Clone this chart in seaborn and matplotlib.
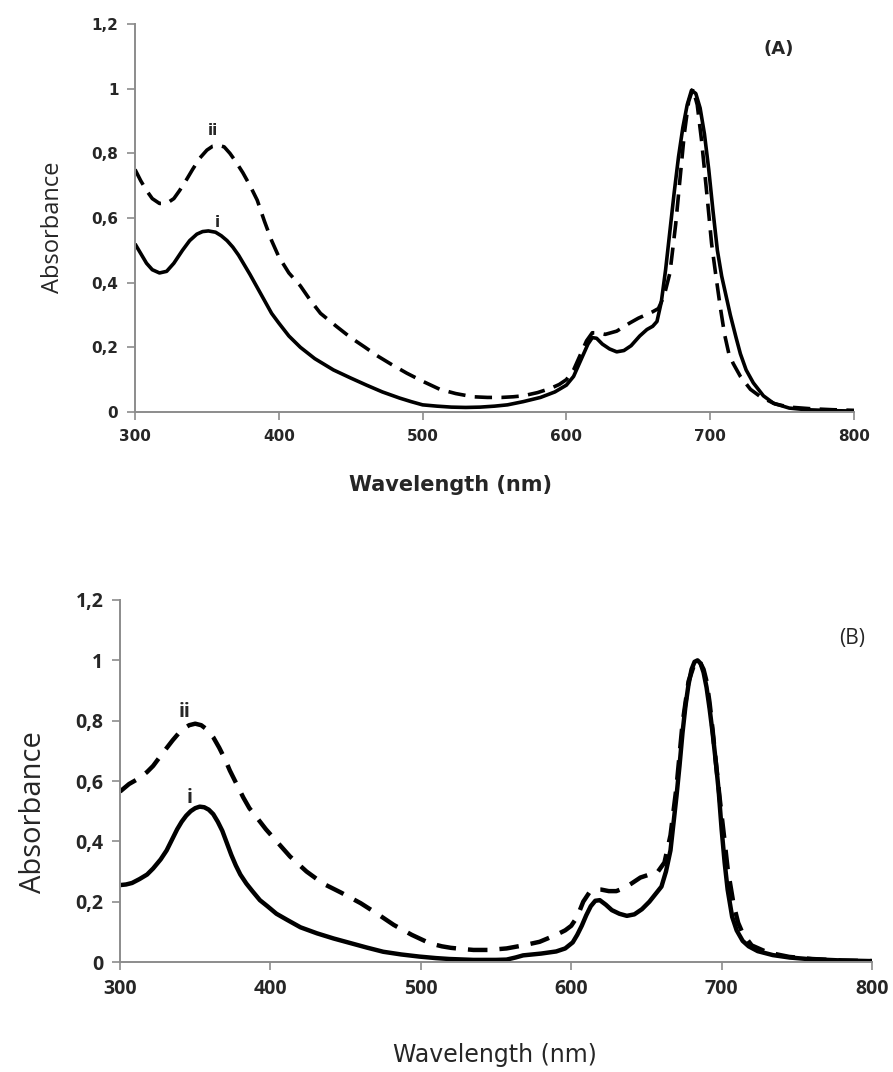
import numpy as np
import pandas as pd
import seaborn as sns
import matplotlib
matplotlib.use("Agg")
import matplotlib.pyplot as plt
from matplotlib.ticker import FixedLocator, FixedFormatter

# ---- panel A readings ----
wl_a_i = [300, 304, 308, 312, 317, 322, 327, 333, 338, 343, 347, 351, 356, 360, 364, 368,
          372, 376, 380, 385, 390, 395, 400, 407, 415, 425, 438, 450, 461, 472, 484, 492,
          500, 510, 520, 530, 540, 550, 559, 570, 582, 592, 600, 605, 609, 612, 615, 618,
          621, 625, 630, 635, 640, 645, 651, 656, 660, 663, 666, 669, 672, 675, 678, 681,
          684, 687, 690, 693, 696, 699, 702, 705, 708, 711, 714, 718, 721, 725, 730, 737,
          744, 755, 767, 785, 800]
abs_a_i = [0.52, 0.49, 0.46, 0.44, 0.43, 0.435, 0.46, 0.50, 0.53, 0.55, 0.558, 0.56, 0.556,
           0.545, 0.53, 0.51, 0.485, 0.455, 0.425, 0.385, 0.345, 0.305, 0.275, 0.235, 0.20,
           0.165, 0.13, 0.105, 0.083, 0.062, 0.043, 0.032, 0.022, 0.018, 0.015, 0.014,
           0.015, 0.018, 0.022, 0.032, 0.045, 0.062, 0.083, 0.11, 0.15, 0.18, 0.21, 0.23,
           0.228, 0.21, 0.195, 0.186, 0.19, 0.205, 0.235, 0.255, 0.265, 0.28, 0.34, 0.44,
           0.56, 0.68, 0.79, 0.88, 0.95, 0.995, 0.985, 0.94, 0.86, 0.75, 0.62, 0.50, 0.42,
           0.36, 0.30, 0.23, 0.18, 0.13, 0.09, 0.05, 0.027, 0.012, 0.007, 0.004, 0.003]

wl_a_ii = [300, 304, 308, 312, 317, 322, 327, 331, 336, 340, 345, 350, 354, 358, 362, 366,
           370, 375, 380, 385, 390, 395, 400, 407, 415, 422, 429, 440, 450, 460, 468, 478,
           489, 500, 512, 523, 535, 545, 555, 563, 570, 580, 589, 595, 600, 605, 610, 614,
           618, 622, 627, 635, 644, 650, 655, 660, 664, 668, 672, 676, 679, 682, 685, 688,
           691, 694, 698, 701, 704, 707, 710, 713, 716, 721, 728, 735, 745, 755, 770, 785,
           800]
abs_a_ii = [0.75, 0.715, 0.685, 0.66, 0.645, 0.645, 0.66, 0.685, 0.72, 0.75, 0.785, 0.81,
            0.822, 0.825, 0.82, 0.80, 0.775, 0.74, 0.70, 0.655, 0.59, 0.53, 0.48, 0.43,
            0.39, 0.345, 0.305, 0.265, 0.23, 0.2, 0.175, 0.148, 0.12, 0.095, 0.07, 0.057,
            0.047, 0.045, 0.045, 0.047, 0.05, 0.06, 0.073, 0.085, 0.10, 0.13, 0.18, 0.22,
            0.245, 0.245, 0.24, 0.25, 0.275, 0.29, 0.30, 0.31, 0.32, 0.36, 0.43, 0.58, 0.72,
            0.86, 0.96, 1.0, 0.95, 0.84, 0.66, 0.52, 0.42, 0.325, 0.24, 0.18, 0.15, 0.11,
            0.07, 0.047, 0.025, 0.015, 0.01, 0.007, 0.005]

# ---- panel B readings ----
wl_b_i = [300, 304, 308, 313, 318, 322, 327, 331, 335, 338, 341, 344, 347, 350, 353, 356,
          359, 362, 365, 368, 371, 374, 377, 380, 384, 388, 393, 398, 404, 411, 420, 431,
          442, 453, 464, 475, 487, 499, 510, 519, 535, 550, 557, 563, 568, 580, 590, 596,
          601, 604, 607, 610, 613, 616, 619, 623, 627, 632, 637, 642, 647, 652, 656, 660,
          663, 666, 668, 670, 672, 674, 676, 678, 680, 682, 684, 686, 688, 690, 692, 694,
          696, 698, 700, 702, 704, 707, 710, 714, 718, 724, 734, 745, 757, 780, 800]
abs_b_i = [0.255, 0.257, 0.262, 0.275, 0.29, 0.31, 0.34, 0.37, 0.41, 0.44, 0.465, 0.485,
           0.50, 0.51, 0.515, 0.513, 0.505, 0.49, 0.465, 0.435, 0.395, 0.355, 0.32, 0.29,
           0.26, 0.235, 0.205, 0.185, 0.16, 0.14, 0.115, 0.095, 0.078, 0.063, 0.048, 0.034,
           0.025, 0.018, 0.013, 0.01, 0.007, 0.007, 0.008, 0.015, 0.022, 0.028, 0.035,
           0.045, 0.065, 0.09, 0.12, 0.155, 0.185, 0.203, 0.205, 0.19, 0.172, 0.16, 0.153,
           0.158, 0.175, 0.2, 0.225, 0.25, 0.30, 0.37, 0.46, 0.55, 0.65, 0.76, 0.85, 0.92,
           0.97, 0.995, 1.0, 0.99, 0.96, 0.91, 0.84, 0.76, 0.67, 0.57, 0.44, 0.33, 0.24,
           0.15, 0.105, 0.07, 0.052, 0.036, 0.023, 0.015, 0.01, 0.005, 0.003]

wl_b_ii = [300, 306, 313, 318, 322, 328, 335, 341, 346, 350, 354, 358, 362, 366, 370, 373,
           377, 382, 386, 390, 397, 405, 413, 424, 435, 447, 460, 471, 482, 494, 506, 514,
           520, 528, 535, 545, 557, 568, 579, 590, 596, 600, 604, 608, 612, 616, 620, 625,
           630, 635, 640, 646, 652, 657, 662, 666, 670, 674, 678, 682, 685, 688, 690, 692,
           694, 696, 699, 702, 704, 706, 708, 711, 714, 720, 730, 738, 745, 760, 780, 800]
abs_b_ii = [0.565, 0.59, 0.61, 0.63, 0.65, 0.69, 0.735, 0.77, 0.785, 0.79, 0.785, 0.77,
            0.745, 0.71, 0.67, 0.635, 0.595, 0.545, 0.51, 0.485, 0.44, 0.395, 0.35, 0.30,
            0.26, 0.23, 0.195, 0.16, 0.123, 0.09, 0.062, 0.052, 0.047, 0.043, 0.04, 0.04,
            0.045, 0.055, 0.067, 0.09, 0.105, 0.12, 0.15, 0.20, 0.23, 0.24, 0.24, 0.235,
            0.235, 0.245, 0.26, 0.28, 0.29, 0.295, 0.33, 0.42, 0.58, 0.79, 0.93, 0.99, 1.0,
            0.97, 0.93, 0.86, 0.77, 0.67, 0.53, 0.40, 0.31, 0.25, 0.19, 0.13, 0.095, 0.055,
            0.033, 0.024, 0.017, 0.01, 0.005, 0.003]

x_ticks = [300, 400, 500, 600, 700, 800]
y_ticks = [0, 0.2, 0.4, 0.6, 0.8, 1.0, 1.2]
y_tick_labels = ["0", "0,2", "0,4", "0,6", "0,8", "1", "1,2"]

sns.set_style("white")
plt.rcParams['font.family'] = ['DejaVu Sans']

fig = plt.figure(figsize=(8.93, 10.72), dpi=100)
ax_a = fig.add_axes([0.1512, 0.6157, 0.8051, 0.3619])
ax_b = fig.add_axes([0.1344, 0.1026, 0.8421, 0.3377])

def style_axis(ax, tick_font, tick_size):
    ax.set_xlim(300, 800)
    ax.set_ylim(0, 1.2)
    for s in ["top", "right"]:
        ax.spines[s].set_visible(False)
    for s in ["left", "bottom"]:
        ax.spines[s].set_color("#8c8c8c")
        ax.spines[s].set_linewidth(1.4)
    ax.xaxis.set_major_locator(FixedLocator(x_ticks))
    ax.yaxis.set_major_locator(FixedLocator(y_ticks))
    ax.yaxis.set_major_formatter(FixedFormatter(y_tick_labels))
    ax.tick_params(axis="both", which="major", direction="out", length=6, width=1.2,
                   color="#8c8c8c", left=True, bottom=True, pad=6)
    for lab in ax.get_xticklabels() + ax.get_yticklabels():
        lab.set_fontfamily(tick_font)
        lab.set_fontsize(tick_size)
        lab.set_fontweight("bold")
    ax.set_xlabel("")
    ax.set_ylabel("")

line_kw = dict(color="black", estimator=None, sort=False,
               solid_joinstyle="round", dash_joinstyle="round",
               solid_capstyle="butt", dash_capstyle="butt")

# panel A
sns.lineplot(x=wl_a_ii, y=abs_a_ii, ax=ax_a, linewidth=2.6, **line_kw)
ax_a.lines[-1].set_dashes((4.8, 2.6))
sns.lineplot(x=wl_a_i, y=abs_a_i, ax=ax_a, linewidth=2.6, **line_kw)
style_axis(ax_a, "DejaVu Sans", 11)
ax_a.text(747.8, 1.122, "(A)", fontsize=13, fontweight="bold", ha="center", va="center")
ax_a.text(354, 0.872, "ii", fontsize=11, fontweight="bold", ha="center", va="center")
ax_a.text(357, 0.587, "i", fontsize=11, fontweight="bold", ha="center", va="center")

# panel B
sns.lineplot(x=wl_b_ii, y=abs_b_ii, ax=ax_b, linewidth=3.2, **line_kw)
ax_b.lines[-1].set_dashes((4.4, 2.7))
sns.lineplot(x=wl_b_i, y=abs_b_i, ax=ax_b, linewidth=3.2, **line_kw)
style_axis(ax_b, "Open Sans", 14)
ax_b.text(786.7, 1.074, "(B)", fontsize=15, family="Open Sans", ha="center", va="center")
ax_b.text(342.6, 0.829, "ii", fontsize=14, family="Open Sans", fontweight="bold",
          ha="center", va="center")
ax_b.text(346.5, 0.544, "i", fontsize=14, family="Open Sans", fontweight="bold",
          ha="center", va="center")

# axis titles
fig.text(0.504, 0.5476, "Wavelength (nm)", fontsize=15, fontweight="bold",
         ha="center", va="center")
fig.text(0.0594, 0.7882, "Absorbance", fontsize=17, family="Open Sans",
         rotation=90, ha="center", va="center")
fig.text(0.5543, 0.0159, "Wavelength (nm)", fontsize=17, ha="center", va="center")
fig.text(0.037, 0.2425, "Absorbance", fontsize=21, family="Open Sans",
         rotation=90, ha="center", va="center")

fig.savefig("out.png", dpi=100)
